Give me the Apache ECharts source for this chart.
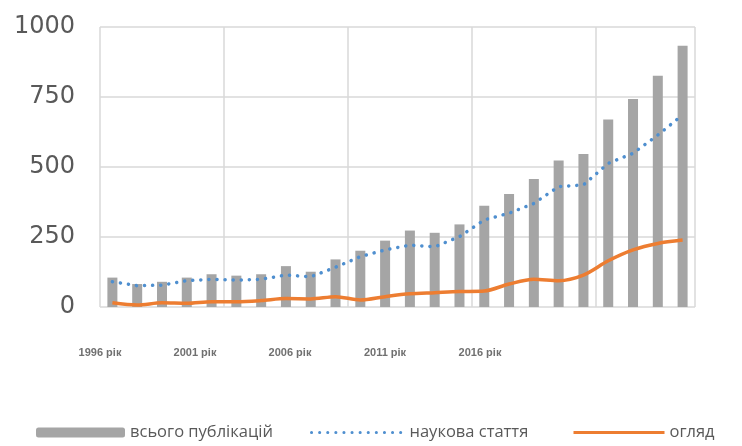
<!DOCTYPE html>
<html>
<head>
<meta charset="utf-8">
<script src="https://cdn.jsdelivr.net/npm/echarts@6/dist/echarts.min.js"></script>
<style>
  html, body { margin: 0; padding: 0; background: #fff; }
  #main { width: 742px; height: 446px; }
</style>
</head>
<body>
<div id="main"></div>
<script>
// роки
var years = ['1996', '1997', '1998', '1999', '2000', '2001', '2002', '2003',
  '2004', '2005', '2006', '2007', '2008', '2009', '2010', '2011',
  '2012', '2013', '2014', '2015', '2016', '2017', '2018', '2019'];

// всього публікацій
var totalPubs = [105, 82, 90, 105, 117, 112, 117, 146, 126, 170, 201, 237,
  273, 265, 295, 362, 404, 457, 523, 546, 670, 743, 826, 933];

// наукова стаття
var articles = [90, 76, 78, 94, 99, 96, 99, 114, 108, 142, 180, 204,
  221, 215, 251, 311, 335, 370, 430, 436, 513, 549, 614, 686];

// огляд
var reviews = [15, 7, 15, 13, 19, 19, 23, 30, 29, 37, 25, 37,
  47, 51, 55, 57, 82, 99, 94, 114, 165, 204, 227, 239];

var tickLabels = ['1996 рік', '2001 рік', '2006 рік', '2011 рік', '2016 рік'];
var yTicks = [0, 250, 500, 750, 1000];

var chartDom = document.getElementById('main');
var myChart = echarts.init(chartDom);
var option;

var legendText = { fontFamily: 'Open Sans', fontSize: 16.5, color: '#595959' };

option = {
  animation: false,
  grid: { left: 100, right: 47, top: 27, bottom: 139 },
  legend: [
    {
      data: ['всього публікацій'], left: 31, top: 419,
      itemWidth: 89, itemHeight: 10, textStyle: legendText
    },
    {
      data: ['наукова стаття'], left: 305, top: 419,
      itemWidth: 93, itemHeight: 10, textStyle: legendText,
      itemStyle: { opacity: 0 },
      lineStyle: { width: 3 }
    },
    {
      data: ['огляд'], left: 567, top: 419,
      itemWidth: 91, itemHeight: 10, textStyle: legendText,
      itemStyle: { opacity: 0 },
      lineStyle: { width: 3 }
    }
  ],
  xAxis: [
    {
      type: 'category',
      data: years,
      axisLine: { show: false },
      axisTick: { show: false },
      axisLabel: { show: false },
      splitLine: { show: true, interval: 4, lineStyle: { color: '#D9D9D9', width: 1.5 } }
    },
    {
      // підписи років (як на оригіналі)
      type: 'value',
      position: 'bottom',
      min: 0,
      max: 595 / 95,
      interval: 1,
      axisLine: { show: false },
      axisTick: { show: false },
      splitLine: { show: false },
      axisLabel: {
        showMaxLabel: false,
        margin: 40,
        fontFamily: 'Liberation Sans',
        fontSize: 11,
        fontWeight: 'bold',
        color: '#707070',
        formatter: function (v) { return tickLabels[Math.round(v)] || ''; }
      }
    }
  ],
  yAxis: {
    type: 'value',
    min: yTicks[0],
    max: yTicks[yTicks.length - 1],
    interval: 250,
    axisLine: { show: false },
    axisTick: { show: false },
    axisLabel: {
      margin: 25, fontFamily: 'DejaVu Sans', fontSize: 24, color: '#595959',
      formatter: function (v) { return String(v); }
    },
    splitLine: { lineStyle: { color: '#D9D9D9', width: 1.5 } }
  },
  series: [
    {
      name: 'всього публікацій',
      type: 'bar',
      data: totalPubs,
      barWidth: 10,
      itemStyle: { color: '#A5A5A5' }
    },
    {
      name: 'наукова стаття',
      type: 'line',
      data: articles,
      symbol: 'none',
      itemStyle: { color: '#4F8FCF' },
      lineStyle: { color: '#4F8FCF', width: 3.5, type: [0.1, 8], cap: 'round' }
    },
    {
      name: 'огляд',
      type: 'line',
      data: reviews,
      symbol: 'none',
      smooth: 0.3,
      itemStyle: { color: '#ED7D31' },
      lineStyle: { color: '#ED7D31', width: 3.5 }
    }
  ]
};

option && myChart.setOption(option);
</script>
</body>
</html>
